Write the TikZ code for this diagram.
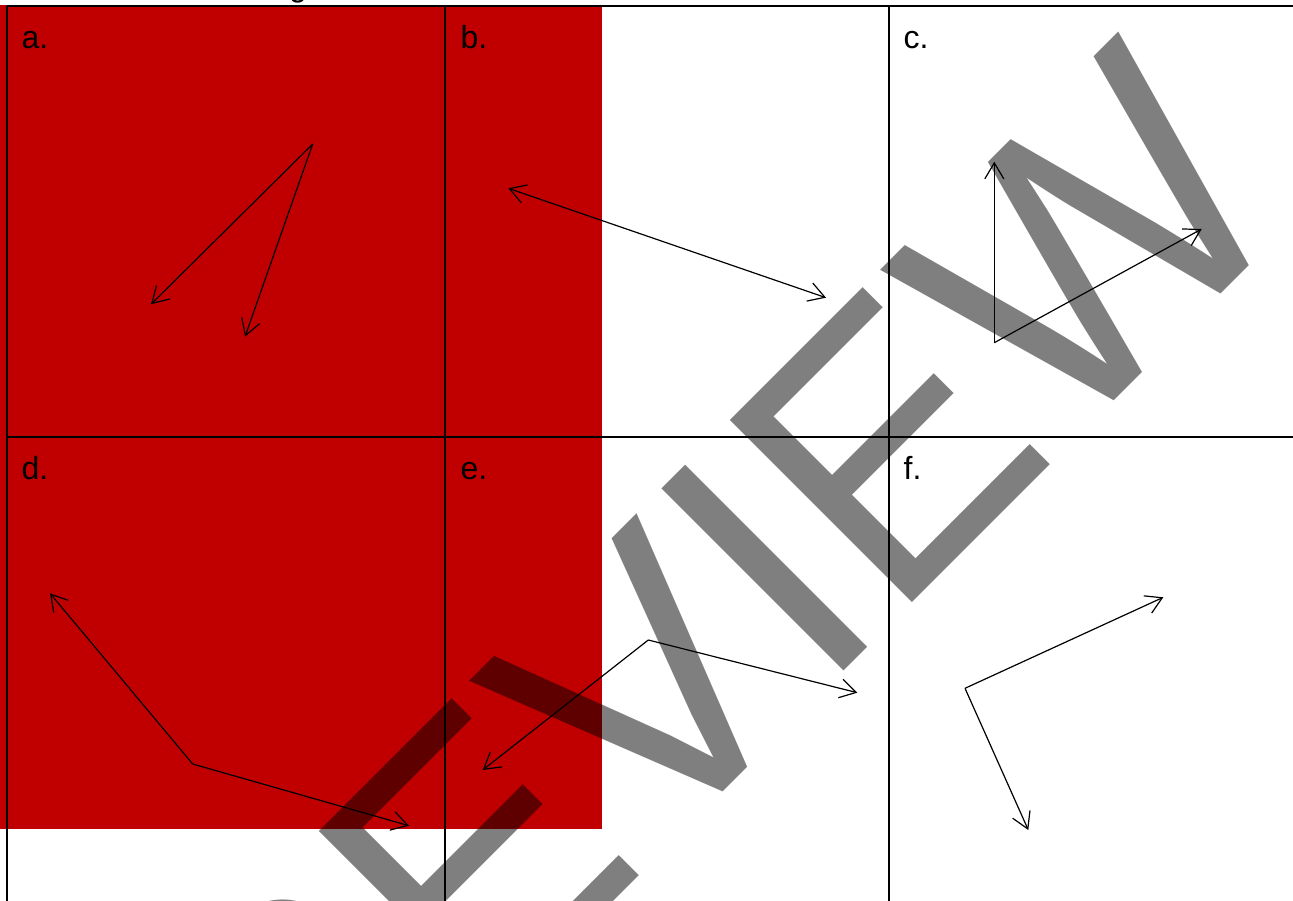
\documentclass[tikz,border=0pt]{standalone}
\usepackage{fontspec}
\setmainfont{Liberation Sans}
\usetikzlibrary{arrows.meta}
\definecolor{panelred}{RGB}{192,0,0}
\tikzset{
  gridline/.style={line width=2pt, black},
  lbl/.style={anchor=base west, inner sep=0pt, font=\fontsize{32}{38}\selectfont},
  vec/.style={line width=1.2pt, -{Straight Barb[length=16pt,width=19pt]}},
  dvec/.style={line width=1.2pt, {Straight Barb[length=16pt,width=19pt]}-{Straight Barb[length=16pt,width=19pt]}},
  wmark/.style={rotate=45, anchor=base, inner sep=0pt, text=black, text opacity=0.5,
    font=\fontsize{360}{360}\selectfont}
}
\begin{document}
\begin{tikzpicture}[x=1pt, y=-1pt]
\useasboundingbox (0,0) rectangle (1293,901);
\clip (0,0) rectangle (1293,901);
% red background
\fill[panelred] (0,5) rectangle (602,829);
% partial text line above
\node[lbl] (gtop) at (289,-3) {g};
% grid
\coordinate (tl) at (6.8,5.8);
\coordinate (tr) at (1293,5.8);
\coordinate (ml) at (6.8,436.7);
\coordinate (mr) at (1293,436.7);
\coordinate (b1) at (6.8,901);
\coordinate (t2) at (445.3,5.8);
\coordinate (b2) at (445.3,901);
\coordinate (t3) at (888.7,5.8);
\coordinate (b3) at (888.7,901);
\draw[gridline] (tl) -- (tr);
\draw[gridline] (ml) -- (mr);
\draw[gridline] (tl) -- (b1);
\draw[gridline] (t2) -- (b2);
\draw[gridline] (t3) -- (b3);
% labels
\node[lbl] (la) at (21.5,48.3) {a.};
\node[lbl] (lb) at (460.5,48.3) {b.};
\node[lbl] (lc) at (903.5,48.3) {c.};
\node[lbl] (ld) at (21.5,479.3) {d.};
\node[lbl] (le) at (460.5,479.3) {e.};
\node[lbl] (lf) at (903.5,479.3) {f.};
% panel a
\coordinate (a0) at (312.7,144);
\coordinate (a1) at (151,304.3);
\coordinate (a2) at (245,336.7);
\draw[vec] (a0) -- (a1);
\draw[vec] (a0) -- (a2);
% panel b
\coordinate (bA) at (508.3,188.3);
\coordinate (bB) at (826,297.7);
\draw[dvec] (bA) -- (bB);
% panel c
\coordinate (c0) at (994.3,342.7);
\coordinate (c1) at (994.3,161.7);
\coordinate (c2) at (1201.7,229);
\draw[vec] (c0) -- (c1);
\draw[vec] (c0) -- (c2);
% panel d
\coordinate (d0) at (192.7,764);
\coordinate (d1) at (50,593.3);
\coordinate (d2) at (409,825.7);
\draw[vec] (d0) -- (d1);
\draw[vec] (d0) -- (d2);
% panel e
\coordinate (e0) at (648.3,640);
\coordinate (e1) at (857.3,692.7);
\coordinate (e2) at (482.7,770);
\draw[vec] (e0) -- (e1);
\draw[vec] (e0) -- (e2);
% panel f
\coordinate (f0) at (965,688.3);
\coordinate (f1) at (1163.3,597.3);
\coordinate (f2) at (1028.3,830);
\draw[vec] (f0) -- (f1);
\draw[vec] (f0) -- (f2);
% watermark
\node[wmark] (wm) at (714.4,800.6) {\scalebox{1}[1.04]{PREVIEW}};
\end{tikzpicture}
\end{document}
